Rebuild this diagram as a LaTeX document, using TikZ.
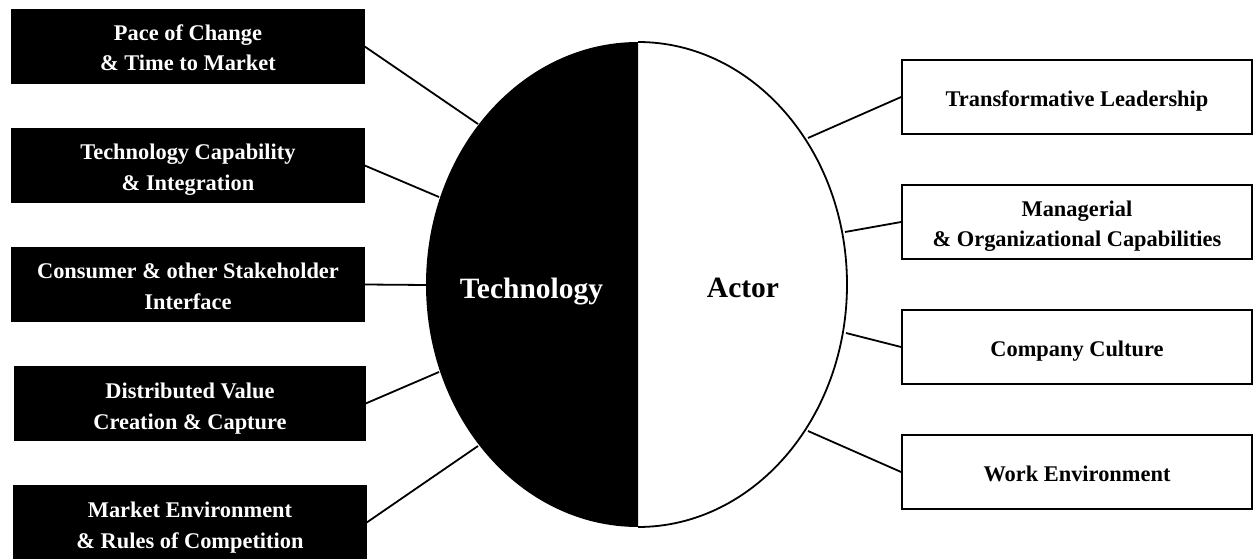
\documentclass[tikz,border=0pt]{standalone}
\usepackage{fontspec}
\setmainfont{Liberation Serif}
\begin{document}
\begin{tikzpicture}[x=1pt,y=-1pt,
 darkbox/.style={draw=black,fill=black,minimum height=74pt,inner sep=0pt},
 lightbox/.style={draw=black,line width=1.8pt,fill=white,minimum width=350pt,minimum height=74pt,inner sep=0pt},
 boxtext/.style={font=\bfseries\fontsize{22.4}{30.5}\selectfont,align=center,inner sep=0pt},
 darktext/.style={boxtext,text=white},
 lighttext/.style={boxtext,text=black},
 bigtext/.style={font=\bfseries\fontsize{29.5}{32}\selectfont,inner sep=0pt},
 link/.style={draw=black,line width=1.8pt}]
\useasboundingbox (0,0) rectangle (1254,559);
\node[darkbox,minimum width=353pt] (t1) at (188,46.5) {};
\node[darkbox,minimum width=353pt] (t2) at (188,165.5) {};
\node[darkbox,minimum width=353pt] (t3) at (188,284.5) {};
\node[darkbox,minimum width=351pt] (t4) at (190,403.5) {};
\node[darkbox,minimum width=353pt] (t5) at (190,522.5) {};
\node[lightbox] (a1) at (1077,97) {};
\node[lightbox] (a2) at (1077,222) {};
\node[lightbox] (a3) at (1077,347) {};
\node[lightbox] (a4) at (1077,472) {};
\node[darktext,yshift=-1pt] (lt1) at (t1) {Pace of Change\\\& Time to Market};
\node[darktext,yshift=-4pt] (lt2) at (t2) {Technology Capability\\\& Integration};
\node[darktext,yshift=-2pt] (lt3) at (t3) {Consumer \& other Stakeholder\\Interface};
\node[darktext,yshift=-5pt] (lt4) at (t4) {Distributed Value\\Creation \& Capture};
\node[darktext,yshift=-5pt] (lt5) at (t5) {Market Environment\\\& Rules of Competition};
\node[lighttext,yshift=-3.5pt] (la1) at (a1) {Transformative Leadership};
\node[lighttext,yshift=-4pt] (la2) at (a2) {Managerial\\\& Organizational Capabilities};
\node[lighttext,yshift=-4pt] (la3) at (a3) {Company Culture};
\node[lighttext,yshift=-2pt] (la4) at (a4) {Work Environment};
\fill[black] (638,42) arc[start angle=270,end angle=90,x radius=212,y radius=242.5] -- cycle;
\draw[line width=1.8pt] (638,42) arc[start angle=-90,end angle=90,x radius=209,y radius=242.5];
\node[bigtext,text=white] (tech) at (531.5,292) {Technology};
\node[bigtext] (actor) at (743,288) {Actor};
\coordinate (e1) at (478,124);
\coordinate (e2) at (439,197);
\coordinate (e3) at (427,285);
\coordinate (e4) at (439,372);
\coordinate (e5) at (478,446);
\coordinate (f1) at (808,138);
\coordinate (f2) at (845,232);
\coordinate (f3) at (846,333);
\coordinate (f4) at (808,431);
\draw[link] (t1.east) -- (e1);
\draw[link] (t2.east) -- (e2);
\draw[link] (t3.east) -- (e3);
\draw[link] (t4.east) -- (e4);
\draw[link] (t5.east) -- (e5);
\draw[link] (a1.west) -- (f1);
\draw[link] (a2.west) -- (f2);
\draw[link] (a3.west) -- (f3);
\draw[link] (a4.west) -- (f4);
\end{tikzpicture}
\end{document}
